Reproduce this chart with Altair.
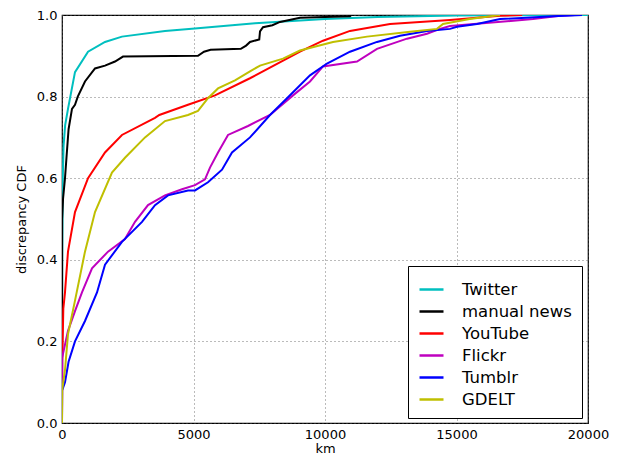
import altair as alt
import pandas as pd

series_names = ["Twitter", "manual news", "YouTube", "Flickr", "Tumblr", "GDELT"]
series_colors = ["#00bfbf", "#000000", "#ff0000", "#bf00bf", "#0000ff", "#bfbf00"]

twitter_km = [0, 10, 30, 60, 120, 228, 494, 990, 1635, 2280, 3916, 4940, 7340, 10000, 12000, 15000, 20000]
twitter_cdf = [0, 0.4, 0.6, 0.68, 0.73, 0.77, 0.86, 0.91, 0.934, 0.947, 0.961, 0.966, 0.98, 0.99, 0.995, 0.999, 1.0]

news_km = [0, 5, 40, 114, 170, 250, 380, 494, 600, 874, 1255, 1635, 2015, 2319, 5170, 5400, 5650, 6800, 7000, 7148, 7500, 7529, 7643, 8000, 8289, 9049, 10951, 11000]
news_cdf = [0, 0.5, 0.55, 0.6, 0.65, 0.72, 0.77, 0.78, 0.8, 0.837, 0.869, 0.876, 0.886, 0.898, 0.9, 0.91, 0.915, 0.917, 0.925, 0.934, 0.94, 0.96, 0.97, 0.975, 0.983, 0.993, 0.997, 1.0]

youtube_km = [0, 10, 50, 114, 228, 494, 990, 1635, 2280, 3536, 3700, 4790, 5817, 7148, 9049, 9924, 10951, 12471, 14753, 16654, 17500]
youtube_cdf = [0, 0.15, 0.28, 0.32, 0.42, 0.517, 0.6, 0.663, 0.706, 0.748, 0.755, 0.78, 0.803, 0.845, 0.91, 0.937, 0.961, 0.978, 0.988, 0.998, 1.0]

flickr_km = [0, 5, 228, 494, 760, 1141, 1749, 2395, 2776, 3270, 3916, 4563, 5057, 5437, 5627, 5932, 6312, 7072, 7909, 8783, 9430, 9924, 11217, 11977, 13118, 13878, 14373, 14753, 17909, 18935, 19500]
flickr_cdf = [0, 0.16, 0.226, 0.274, 0.32, 0.379, 0.42, 0.451, 0.493, 0.534, 0.558, 0.573, 0.583, 0.597, 0.626, 0.663, 0.706, 0.728, 0.755, 0.803, 0.837, 0.874, 0.886, 0.917, 0.942, 0.954, 0.966, 0.973, 0.99, 0.998, 1.0]

tumblr_km = [0, 5, 114, 250, 494, 874, 1331, 1635, 2280, 3042, 3536, 4030, 4790, 5057, 5551, 6084, 6464, 7148, 7909, 8555, 9430, 10076, 10951, 11977, 12852, 13878, 14753, 15019, 15779, 16654, 18669, 19772]
tumblr_cdf = [0, 0.08, 0.1, 0.15, 0.2, 0.25, 0.32, 0.388, 0.444, 0.493, 0.534, 0.558, 0.57, 0.57, 0.59, 0.621, 0.663, 0.70, 0.755, 0.796, 0.852, 0.881, 0.91, 0.934, 0.949, 0.961, 0.966, 0.971, 0.978, 0.99, 0.997, 1.0]

gdelt_km = [0, 5, 114, 228, 494, 874, 1255, 1900, 2395, 3156, 3916, 4790, 5170, 5551, 5932, 6578, 7148, 7529, 8403, 9049, 10304, 11597, 13232, 14259, 14487, 15500, 16654]
gdelt_cdf = [0, 0.08, 0.13, 0.218, 0.30, 0.42, 0.517, 0.614, 0.65, 0.70, 0.74, 0.755, 0.765, 0.796, 0.82, 0.84, 0.862, 0.876, 0.893, 0.913, 0.934, 0.947, 0.959, 0.966, 0.978, 0.99, 1.0]

all_km = [twitter_km, news_km, youtube_km, flickr_km, tumblr_km, gdelt_km]
all_cdf = [twitter_cdf, news_cdf, youtube_cdf, flickr_cdf, tumblr_cdf, gdelt_cdf]

rows = []
for i, (name, kms, cdfs) in enumerate(zip(series_names, all_km, all_cdf)):
    for k, c in zip(kms, cdfs):
        rows.append({"series": name, "order": i, "km": k, "cdf": c})
df = pd.DataFrame(rows)

font = "DejaVu Sans"

chart = alt.Chart(df).mark_line(strokeWidth=2, clip=True).encode(
    x=alt.X("km:Q", title="km",
            scale=alt.Scale(domain=[0, 20000], nice=False),
            axis=alt.Axis(values=[0, 5000, 10000, 15000, 20000], format="d")),
    y=alt.Y("cdf:Q", title="discrepancy CDF",
            scale=alt.Scale(domain=[0, 1], nice=False),
            axis=alt.Axis(values=[0, 0.2, 0.4, 0.6, 0.8, 1.0], format=".1f")),
    color=alt.Color("series:N",
                    scale=alt.Scale(domain=series_names, range=series_colors),
                    sort=series_names,
                    legend=alt.Legend(title=None, orient="none", legendX=346, legendY=251,
                                      symbolType="stroke", symbolSize=576, symbolStrokeWidth=2.5,
                                      labelFontSize=16.5, labelFont=font, labelColor="black",
                                      labelOffset=17, rowPadding=0, padding=10,
                                      strokeColor="black", cornerRadius=0, fillColor="white",
                                      labelLimit=200)),
    detail="order:N",
    order="order:Q",
).properties(
    width=526, height=408,
    autosize=alt.AutoSizeParams(type="none"),
    padding={"left": 54, "top": 7, "right": 22, "bottom": 32},
).configure_view(
    stroke="black", strokeWidth=1.2
).configure_axis(
    grid=True, gridColor="#555555", gridDash=[1, 3], gridWidth=1, gridOpacity=0.8,
    domain=False, ticks=False,
    labelFont=font, labelFontSize=13, labelColor="black", labelPadding=5,
    titleFont=font, titleFontSize=13, titleFontWeight="normal", titleColor="black",
).configure_axisX(
    titlePadding=1, labelFlush=False
).configure_axisY(
    titlePadding=8
)

chart.save("out.html", embed_options={"renderer": "svg", "actions": False})
